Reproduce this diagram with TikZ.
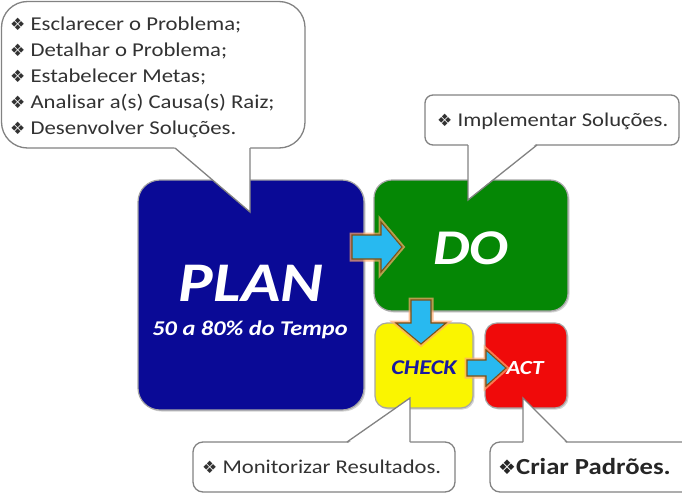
\documentclass[tikz,border=0pt]{standalone}
\usepackage{fontspec}
\setmainfont{Carlito}[FakeStretch=1.16]
\newfontfamily\symfont{DejaVu Sans}
\usetikzlibrary{shadows}
\definecolor{planblue}{RGB}{10,10,150}
\definecolor{dogreen}{RGB}{5,135,5}
\definecolor{chkyellow}{RGB}{250,245,0}
\definecolor{actred}{RGB}{240,10,10}
\definecolor{chktext}{RGB}{25,25,160}
\definecolor{arrcyan}{RGB}{40,185,240}
\definecolor{arrbrown}{RGB}{125,80,20}
\definecolor{arrglow}{RGB}{255,170,110}
\definecolor{calltext}{RGB}{50,50,50}
\definecolor{callline}{RGB}{130,130,130}
\newcommand{\bul}{{\symfont\fontsize{17}{17}\selectfont\char"2756}}
\begin{document}
\begin{tikzpicture}[x=1pt,y=-1pt,
  boxstyle/.style={draw=black!35, line width=1.2pt, inner sep=0pt,
    drop shadow={shadow xshift=1.5pt, shadow yshift=-1.5pt, opacity=0.35}},
  blockarr/.style={fill=arrcyan, draw=arrbrown, line width=1.1pt, line join=miter,
    preaction={draw=arrglow, line width=5pt, opacity=0.7}},
  callout/.style={draw=callline, line width=1.3pt, fill=white},
  calloutside/.style={draw=callline, line width=1.3pt, line join=miter},
  ctext/.style={text=calltext, inner sep=0pt, font=\fontsize{19.5}{26}\selectfont},
  bigtitle/.style={text=white, inner sep=0pt, font=\bfseries\itshape},
]
\useasboundingbox (0,0) rectangle (682,495);

% boxes
\node[boxstyle, fill=planblue, rounded corners=22pt, minimum width=226pt, minimum height=230pt] (plan) at (251,295) {};
\node[boxstyle, fill=dogreen, rounded corners=18pt, minimum width=194pt, minimum height=131pt] (do) at (471,245.5) {};
\node[boxstyle, fill=chkyellow, rounded corners=12pt, minimum width=98pt, minimum height=85pt] (check) at (424,365.5) {};
\node[boxstyle, fill=actred, rounded corners=12pt, minimum width=82pt, minimum height=85pt] (act) at (526,365.5) {};

% box texts
\node[bigtitle, font=\fontsize{56}{56}\selectfont\bfseries\itshape] (plantitle) at (251,283) {PLAN};
\node[bigtitle, font=\fontsize{21}{21}\selectfont\bfseries\itshape] (plansub) at (250,330) {50 a 80\% do Tempo};
\node[bigtitle, font=\fontsize{50}{50}\selectfont\bfseries\itshape] (dotitle) at (471,248) {DO};
\node[bigtitle, text=chktext, font=\fontsize{21}{21}\selectfont\bfseries\itshape] (checktitle) at (424,368) {CHECK};
\node[bigtitle, font=\fontsize{20}{20}\selectfont\bfseries\itshape] (acttitle) at (525,368) {ACT};

% arrows between boxes
\coordinate (a1) at (352,247);
\coordinate (a2) at (421,300);
\coordinate (a3) at (467,368);
\draw[blockarr, shift={(a1)}] (0,-12) -- (29,-12) -- (29,-25) -- (50,0) -- (29,25) -- (29,12) -- (0,12) -- cycle;
\draw[blockarr, shift={(a2)}] (-10,0) -- (-10,23) -- (-25,23) -- (0,44) -- (25,23) -- (10,23) -- (10,0) -- cycle;
\draw[blockarr, shift={(a3)}] (0,-8) -- (19,-8) -- (19,-18) -- (39,0) -- (19,18) -- (19,8) -- (0,8) -- cycle;

% PLAN callout
\draw[callout, rounded corners=26pt] (1.5,1.5) rectangle (305,148);
\fill[white] (173,146) -- (250,212) -- (250,146) -- cycle;
\draw[calloutside] (175,148) -- (250,212) -- (250,148);
\node[ctext, align=left, anchor=west, font=\fontsize{19.6}{26}\selectfont] (plannote) at (10,77) {%
\bul\ Esclarecer o Problema;\\
\bul\ Detalhar o Problema;\\
\bul\ Estabelecer Metas;\\
\bul\ Analisar a(s) Causa(s) Raiz;\\
\bul\ Desenvolver Soluções.};

% DO callout
\draw[callout, rounded corners=8pt] (425,95) rectangle (679,145);
\fill[white] (468,143) -- (468,200) -- (537,143) -- cycle;
\draw[calloutside] (468,145) -- (468,200) -- (537,145);
\node[ctext, anchor=west] (donote) at (437,121) {\bul\ Implementar Soluções.};

% CHECK callout
\draw[callout, rounded corners=10pt] (193,442) rectangle (455,492);
\fill[white] (347,444) -- (410,398) -- (410,444) -- cycle;
\draw[calloutside] (347,442) -- (410,398) -- (410,442);
\node[ctext, anchor=west] (checknote) at (202,467) {\bul\ Monitorizar Resultados.};

% ACT callout
\draw[callout, rounded corners=10pt] (490,442) rectangle (712,492);
\fill[white] (523,444) -- (523,398) -- (567,444) -- cycle;
\draw[calloutside] (523,442) -- (523,398) -- (567,442);
\node[ctext, anchor=west, font=\fontsize{23}{23}\selectfont\bfseries, text=black!85] (actnote) at (498,467) {{\symfont\fontsize{20}{20}\selectfont\char"2756}Criar Padrões.};
\end{tikzpicture}
\end{document}
